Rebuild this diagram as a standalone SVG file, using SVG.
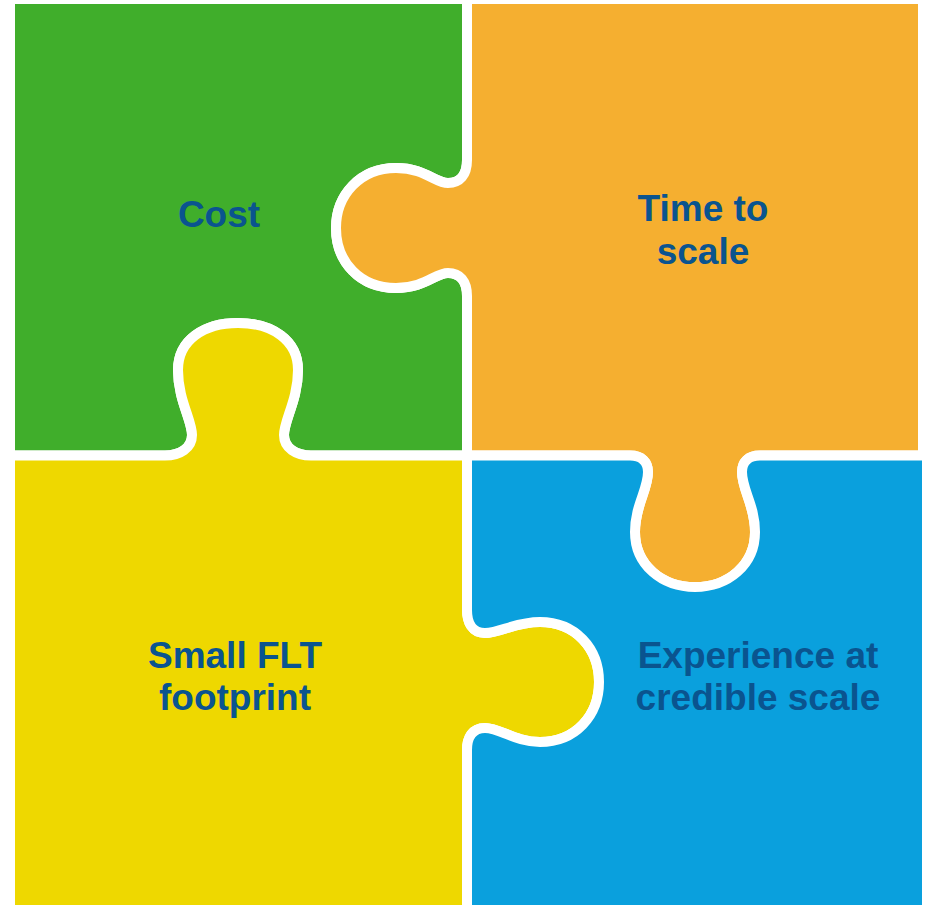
<svg xmlns="http://www.w3.org/2000/svg" width="927" height="908" viewBox="0 0 927 908">
<style>
.piece{stroke:#ffffff;stroke-width:10;stroke-linejoin:round}
.lbl{font-family:"Liberation Sans",Arial,sans-serif;font-weight:bold;font-size:37px;fill:#0a548f;text-anchor:middle}
</style>
<rect width="927" height="908" fill="#ffffff"/>
<g id="cost">
<path class="piece" fill="#40ae2b" d="M10,-1 H467 V160 C467,175 460,183 448,183 C435,183 425,168 396,168 C360,168 336,195 336,228 C336,262 360,288 396,288 C425,288 435,273 448,273 C460,273 467,281 467,296 V455.5 H311 C296,455.5 284,448 284,435 C284,420 298,400 298,370 C298,340 272,323 238,323 C204,323 178,340 178,370 C178,400 192,420 192,435 C192,448 180,455.5 165,455.5 H10 Z"/>
<text class="lbl" x="219" y="227">Cost</text>
</g>
<g id="time-to-scale">
<path class="piece" fill="#f5af30" d="M467,-1 H923 V455.5 H760 C748,455.5 742,462 742,472 C742,490 755,505 755,532 C755,565 728,587 695,587 C662,587 635,565 635,532 C635,505 648,490 648,472 C648,462 642,455.5 630,455.5 H467 V296 C467,281 460,273 448,273 C435,273 425,288 396,288 C360,288 336,262 336,228 C336,195 360,168 396,168 C425,168 435,183 448,183 C460,183 467,175 467,160 Z"/>
<text class="lbl" x="703" y="221">Time to</text>
<text class="lbl" x="703" y="264">scale</text>
</g>
<g id="small-flt-footprint">
<path class="piece" fill="#eed800" d="M10,455.5 H165 C180,455.5 192,448 192,435 C192,420 178,400 178,370 C178,340 204,323 238,323 C272,323 298,340 298,370 C298,400 284,420 284,435 C284,448 296,455.5 311,455.5 H467 V610 C467,622 472,633 485,633 C500,633 515,622 540,622 C575,622 599,648 599,682 C599,716 575,742 540,742 C515,742 500,728 485,728 C472,728 467,738 467,750 V910 H10 Z"/>
<text class="lbl" x="235" y="668">Small FLT</text>
<text class="lbl" x="235" y="710">footprint</text>
</g>
<g id="experience-at-credible-scale">
<path class="piece" fill="#0aa0dd" d="M467,455.5 H630 C642,455.5 648,462 648,472 C648,490 635,505 635,532 C635,565 662,587 695,587 C728,587 755,565 755,532 C755,505 742,490 742,472 C742,462 748,455.5 760,455.5 H927 V910 H467 V750 C467,738 472,728 485,728 C500,728 515,742 540,742 C575,742 599,716 599,682 C599,648 575,622 540,622 C515,622 500,633 485,633 C472,633 467,622 467,610 Z"/>
<text class="lbl" x="758" y="668">Experience at</text>
<text class="lbl" x="758" y="710">credible scale</text>
</g>
<g id="connectors"/>
</svg>
